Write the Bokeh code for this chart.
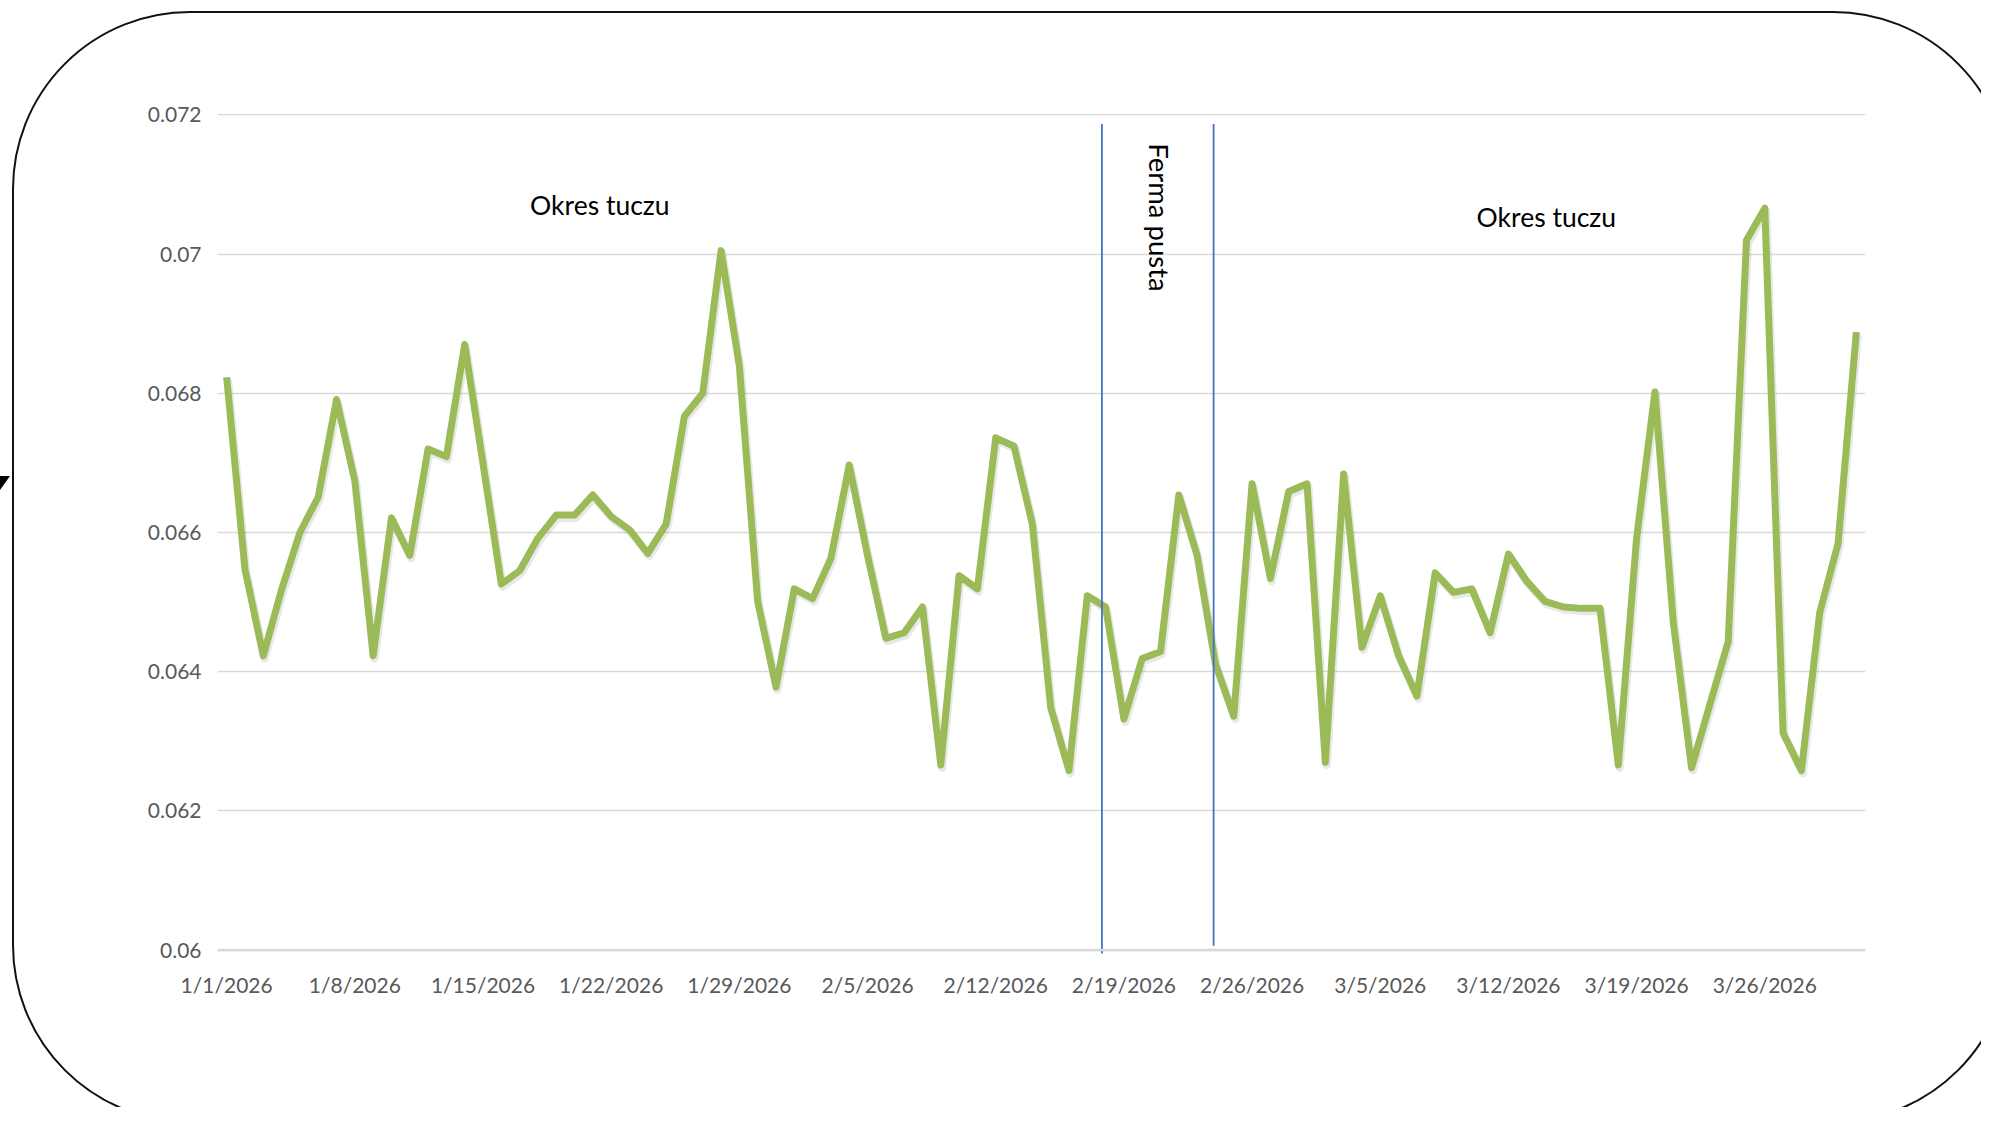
import math
from bokeh.plotting import figure
from bokeh.models import Range1d, FixedTicker, Span, ColumnDataSource, InlineStyleSheet
from bokeh.transform import dodge
from bokeh.core.properties import value
from bokeh.embed import file_html
from bokeh.resources import INLINE

# ---------------- data ----------------
day_index = list(range(90))
values = [
    0.06823, 0.06547, 0.06423, 0.06518, 0.06600, 0.06651, 0.06791, 0.06674, 0.06423, 0.06621,
    0.06567, 0.06720, 0.06709, 0.06870, 0.06699, 0.06526, 0.06545, 0.06592, 0.06625, 0.06625,
    0.06654, 0.06623, 0.06604, 0.06570, 0.06612, 0.06767, 0.06800, 0.07005, 0.06839, 0.06501,
    0.06378, 0.06519, 0.06505, 0.06563, 0.06697, 0.06567, 0.06448, 0.06456, 0.06493, 0.06266,
    0.06538, 0.06519, 0.06736, 0.06724, 0.06612, 0.06349, 0.06258, 0.06509, 0.06493, 0.06332,
    0.06419, 0.06429, 0.06654, 0.06567, 0.06411, 0.06336, 0.06670, 0.06534, 0.06659, 0.06670,
    0.06270, 0.06684, 0.06435, 0.06509, 0.06423, 0.06365, 0.06542, 0.06514, 0.06519, 0.06456,
    0.06569, 0.06530, 0.06501, 0.06493, 0.06491, 0.06491, 0.06266, 0.06592, 0.06802, 0.06472,
    0.06262, 0.06353, 0.06443, 0.07020, 0.07066, 0.06312, 0.06258, 0.06485, 0.06584, 0.06888,
]
x_tick_pos = [0, 7, 14, 21, 28, 35, 42, 49, 56, 63, 70, 77, 84]
x_tick_labels = ["1/1/2026", "1/8/2026", "1/15/2026", "1/22/2026", "1/29/2026", "2/5/2026",
                 "2/12/2026", "2/19/2026", "2/26/2026", "3/5/2026", "3/12/2026", "3/19/2026",
                 "3/26/2026"]
y_ticks = [0.06, 0.062, 0.064, 0.066, 0.068, 0.07, 0.072]
y_tick_labels = ["0.06", "0.062", "0.064", "0.066", "0.068", "0.07", "0.072"]

# annotations
marker_x = [47.8, 53.9]
marker_top = [0.07187, 0.07187]
marker_bottom = [0.059953, 0.060062]
period_labels = ["Okres tuczu", "Okres tuczu"]
period_x = [20.38, 72.07]
period_y = [0.070701, 0.070536]
empty_label = ["Ferma pusta"]
empty_x = [50.92]
empty_y = [0.070526]

FONT = "Lato"

# rounded frame drawn round the whole chart (slide-like border), via CSS on the plot host
frame_css = InlineStyleSheet(css="""
:host { position: relative; overflow: hidden; }
:host::after {
  content: ""; position: absolute; left: 12px; top: 11px;
  width: 1999px; height: 1112px; box-sizing: border-box;
  border: 2px solid #111111; border-radius: 178px; pointer-events: none;
}
:host::before {
  content: ""; position: absolute; left: 0px; top: 476px; width: 0; height: 0;
  border-top: 14px solid #000; border-right: 10px solid transparent;
  pointer-events: none; z-index: 2;
}
""")

# ---------------- figure ----------------
W, H = 1981, 1107
p = figure(width=W, height=H, output_backend="svg", toolbar_location=None,
           x_range=Range1d(-0.5, 89.5), y_range=Range1d(0.059937, 0.07202),
           min_border_left=217, min_border_right=116, min_border_top=113,
           min_border_bottom=153, stylesheets=[frame_css])
p.outline_line_color = None
p.background_fill_color = "white"
p.border_fill_color = "white"

# grid
p.xgrid.visible = False
p.ygrid.ticker = FixedTicker(ticks=y_ticks)
p.ygrid.grid_line_color = "#D9D9D9"
p.ygrid.grid_line_width = 1.5
p.add_layout(Span(location=y_ticks[0], dimension="width", line_color="#D9D9D9", line_width=2.5))

# axes
p.xaxis.ticker = FixedTicker(ticks=x_tick_pos)
p.xaxis.major_label_overrides = {t: l for t, l in zip(x_tick_pos, x_tick_labels)}
p.yaxis.ticker = FixedTicker(ticks=y_ticks)
p.yaxis.major_label_overrides = {t: l for t, l in zip(y_ticks, y_tick_labels)}
for ax in (p.xaxis, p.yaxis):
    ax.axis_line_color = None
    ax.major_tick_line_color = None
    ax.minor_tick_line_color = None
    ax.major_tick_out = 0
    ax.major_tick_in = 0
    ax.major_label_text_font = FONT
    ax.major_label_text_font_size = "21px"
    ax.major_label_text_color = "#595959"
p.xaxis.major_label_standoff = 17
p.yaxis.major_label_standoff = 16

# data line (with a soft drop shadow, as in the original)
src = ColumnDataSource(dict(x=day_index, y=values))
p.line(x=dodge("x", 0.08, range=p.x_range), y=dodge("y", -0.00004, range=p.y_range),
       source=src, line_color="#7f7f7f", line_alpha=0.18, line_width=8, line_join="round")
p.line(x="x", y="y", source=src, line_color="#9BBB59", line_width=7, line_join="round")

# vertical markers
p.segment(x0=marker_x, y0=marker_bottom, x1=marker_x, y1=marker_top,
          line_color="#4472C4", line_width=1.8)

# texts
p.text(x=period_x, y=period_y, text=period_labels, text_font=value(FONT),
       text_font_size="26.5px", text_color="black", text_align="center",
       text_baseline="middle")
p.text(x=empty_x, y=empty_y, text=empty_label, text_font=value(FONT),
       text_font_size="27.5px", text_color="black", text_align="center",
       text_baseline="middle", angle=-math.pi / 2)

open("out.html", "w").write(file_html(p, INLINE))
